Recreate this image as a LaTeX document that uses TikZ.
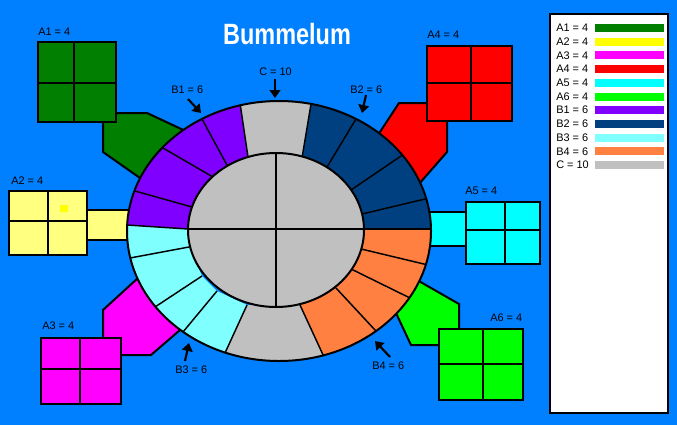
\documentclass[tikz,border=0pt]{standalone}
\usepackage{fontspec}
\setmainfont{Liberation Sans}
\usetikzlibrary{arrows.meta,calc}
\definecolor{bumBg}{HTML}{0080FF}
\definecolor{bumAone}{HTML}{007F00}
\definecolor{bumAtwo}{HTML}{FFFF80}
\definecolor{bumYellow}{HTML}{FFFF00}
\definecolor{bumAthree}{HTML}{FF00FF}
\definecolor{bumAfour}{HTML}{FF0000}
\definecolor{bumAfive}{HTML}{00FFFF}
\definecolor{bumAsix}{HTML}{00FF00}
\definecolor{bumBone}{HTML}{8000FF}
\definecolor{bumBtwo}{HTML}{004080}
\definecolor{bumBthree}{HTML}{80FFFF}
\definecolor{bumBfour}{HTML}{FF8040}
\definecolor{bumC}{HTML}{C0C0C0}
\tikzset{
  tag/.style={anchor=west,inner sep=0pt,font=\fontsize{8.2}{10}\selectfont},
  gridline/.style={draw=black,line width=1.5pt,line join=miter},
  ringline/.style={draw=black,line width=1.5pt},
  segline/.style={draw=black,line width=1.1pt},
  pointer/.style={-{Triangle[width=8pt,length=6pt]},line width=1.6pt},
  keybar/.style={inner sep=0pt,minimum width=69*0.75pt,minimum height=8*0.75pt,anchor=west}
}

\begin{document}
\begin{tikzpicture}[x=0.75pt,y=-0.75pt]
  \useasboundingbox (0,0) rectangle (677,425);
  \fill[bumBg] (0,0) rectangle (677,425);

  % connector pieces under the grids
  \filldraw[gridline,fill=bumAone] (103,113) -- (147,113) -- (192,134) -- (140,178) -- (103,152) -- cycle;
  \filldraw[gridline,fill=bumAtwo] (87,210) rectangle (136,240);
  \filldraw[gridline,fill=bumAthree] (103,310) -- (138,278) -- (180,330) -- (151,355) -- (103,355) -- cycle;
  \filldraw[gridline,fill=bumAfour] (399,103) -- (447,103) -- (447,152) -- (419,184) -- (378,135) -- cycle;
  \filldraw[gridline,fill=bumAfive] (424,212) rectangle (466,246);
  \filldraw[gridline,fill=bumAsix] (396,313) -- (417,280) -- (459,304) -- (459,345) -- (411,345) -- cycle;

  % the 2x2 grids
  \foreach \c/\xa/\ya/\xb/\yb/\xm/\ym in {bumAone/38/42/116/122/74/83,
      bumAtwo/9/191/87/255/48/221, bumAthree/41/338/121/404/80/369,
      bumAfour/427/46/512/121/471/83, bumAfive/466/202/540/264/505/230,
      bumAsix/439/329/523/400/483/364}
  {
    \filldraw[gridline,fill=\c] (\xa,\ya) rectangle (\xb,\yb);
    \draw[gridline] (\xm,\ya) -- (\xm,\yb) (\xa,\ym) -- (\xb,\ym);
  }
  \fill[bumYellow] (60,205) rectangle (68,212);

  % ring boundaries (outer / inner)
  \foreach \k/\ox/\oy/\ix/\iy in {0/127/225/188/229, 1/135/191/192/207,
      2/163/148/213/177, 3/202/119/228/167, 4/240/103/248/157,
      5/311/104/302/158, 6/356/119/327/167, 7/401/156/351/190,
      8/425/199/362/214, 9/431/229/363/229, 10/428/265/357/248,
      11/408/297/347/267, 12/375/330/336/288, 13/324/357/300/305,
      14/225/353/247/305, 15/183/332/217/291, 16/155/307/202/276,
      17/130/258/189/247}
  {
    \coordinate (o\k) at (\ox,\oy);
    \coordinate (i\k) at (\ix,\iy);
  }
  \begin{scope}
    \clip (279,231) ellipse (152 and 130);
    \foreach \a/\b/\c in {0/1/bumBone, 1/2/bumBone, 2/3/bumBone, 3/4/bumBone,
        4/5/bumC, 5/6/bumBtwo, 6/7/bumBtwo, 7/8/bumBtwo, 8/9/bumBtwo,
        9/10/bumBfour, 10/11/bumBfour, 11/12/bumBfour, 12/13/bumBfour,
        13/14/bumC, 14/15/bumBthree, 15/16/bumBthree, 16/17/bumBthree, 17/0/bumBthree}
      \fill[\c] (i\a) -- ($(i\a)!2.2!(o\a)$) -- ($(i\b)!2.2!(o\b)$) -- (i\b) -- cycle;
    \foreach \k in {0,...,17}
      \draw[segline] (i\k) -- ($(i\k)!1.2!(o\k)$);
  \end{scope}
  \draw[ringline] (279,231) ellipse (152 and 130);
  \filldraw[ringline,fill=bumC] (276,230) ellipse (88 and 77);
  \draw[ringline] (276,153) -- (276,307) (188,229) -- (364,229);

  % pointers
  \coordinate (bonetail) at (188,99);   \coordinate (bonehead) at (201,113);
  \coordinate (ctail) at (275,79);      \coordinate (chead) at (275,98);
  \coordinate (btwotail) at (366,95);   \coordinate (btwohead) at (362,113);
  \coordinate (bthreetail) at (185,361); \coordinate (bthreehead) at (189,343);
  \coordinate (bfourtail) at (390,357); \coordinate (bfourhead) at (375,341);
  \draw[pointer] (bonetail) -- (bonehead);
  \draw[pointer] (ctail) -- (chead);
  \draw[pointer] (btwotail) -- (btwohead);
  \draw[pointer] (bthreetail) -- (bthreehead);
  \draw[pointer] (bfourtail) -- (bfourhead);

  % labels
  \node[tag] (aone) at (38,32) {A1 = 4};
  \node[tag] (atwo) at (11,181) {A2 = 4};
  \node[tag] (athree) at (42,326) {A3 = 4};
  \node[tag] (afour) at (427,35) {A4 = 4};
  \node[tag] (afive) at (465,191) {A5 = 4};
  \node[tag] (asix) at (490,318) {A6 = 4};
  \node[tag] (bone) at (171,90) {B1 = 6};
  \node[tag] (cc) at (259,72) {C = 10};
  \node[tag] (btwo) at (350,90) {B2 = 6};
  \node[tag] (bthree) at (175,370) {B3 = 6};
  \node[tag] (bfour) at (372,366) {B4 = 6};

  \node[text=white,font=\fontsize{22}{24}\selectfont\bfseries] (title) at (287,34)
    {\scalebox{0.8}[1]{Bummelum}};

  % legend
  \filldraw[draw=black,line width=1.5pt,fill=white] (550,14) rectangle (668,413);
  \foreach \t/\c [count=\k from 0] in {A1 = 4/bumAone, A2 = 4/bumYellow,
      A3 = 4/bumAthree, A4 = 4/bumAfour, A5 = 4/bumAfive, A6 = 4/bumAsix,
      B1 = 6/bumBone, B2 = 6/bumBtwo, B3 = 6/bumBthree, B4 = 6/bumBfour, C = 10/bumC}
  {
    \node[tag] (key\k) at (556,{28+13.7*\k}) {\t};
    \node[keybar,fill=\c] (bar\k) at (595,{28+13.7*\k}) {};
  }
\end{tikzpicture}
\end{document}
